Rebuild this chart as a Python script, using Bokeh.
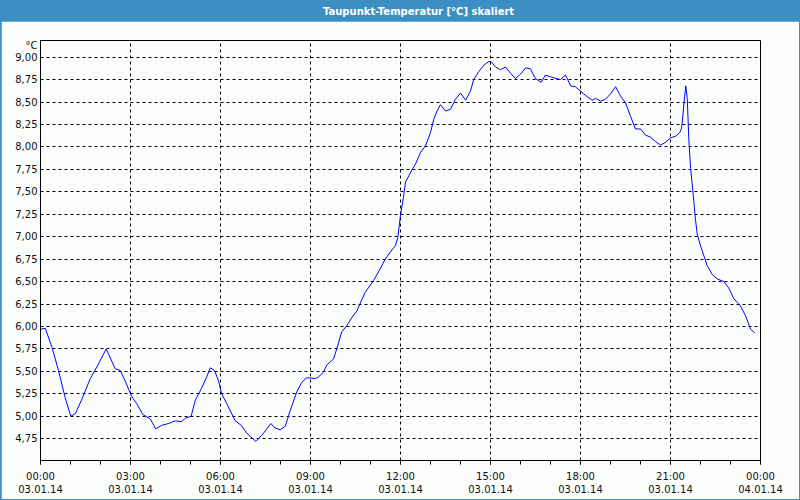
from bokeh.plotting import figure
from bokeh.models import Range1d, FixedTicker, Label, ColumnDataSource
from bokeh.layouts import column
from bokeh.embed import file_html
from bokeh.resources import INLINE

# ---- data (hours since 03.01.14 00:00, dew point in °C) ----
hours = [0.00, 0.16, 0.38, 0.60, 0.82, 1.01, 1.16, 1.38, 1.66, 1.88, 2.19, 2.49, 2.66, 2.84,
         3.04, 3.21, 3.41, 3.66, 3.84, 4.04, 4.27, 4.49, 4.69, 4.84, 5.02, 5.16, 5.38, 5.54,
         5.66, 5.80, 5.93, 6.04, 6.21, 6.49, 6.69, 6.88, 7.18, 7.43, 7.68, 7.82, 7.99, 8.16,
         8.32, 8.54, 8.71, 8.88, 9.16, 9.27, 9.43, 9.54, 9.77, 9.91, 10.04, 10.21, 10.38,
         10.54, 10.82, 11.10, 11.32, 11.49, 11.66, 11.83, 11.91, 12.00, 12.09, 12.17, 12.28,
         12.39, 12.50, 12.67, 12.83, 13.00, 13.11, 13.22, 13.33, 13.50, 13.67, 13.83, 14.00,
         14.17, 14.33, 14.44, 14.61, 14.78, 14.94, 15.02, 15.17, 15.33, 15.50, 15.67, 15.83,
         16.00, 16.17, 16.33, 16.50, 16.69, 16.83, 17.00, 17.22, 17.33, 17.50, 17.67, 17.83,
         18.00, 18.22, 18.39, 18.50, 18.67, 18.83, 19.00, 19.17, 19.33, 19.50, 19.67, 19.83,
         20.00, 20.17, 20.33, 20.50, 20.67, 20.83, 21.00, 21.17, 21.31, 21.37, 21.41, 21.47,
         21.51, 21.56, 21.61, 21.67, 21.76, 21.83, 21.89, 22.00, 22.11, 22.22, 22.39, 22.56,
         22.78, 22.94, 23.11, 23.33, 23.50, 23.67, 23.81]
dewpoint = [5.97, 5.98, 5.77, 5.51, 5.21, 5.00, 5.03, 5.19, 5.42, 5.55, 5.75, 5.53, 5.51, 5.38,
            5.22, 5.14, 5.02, 4.97, 4.86, 4.90, 4.92, 4.95, 4.94, 4.98, 5.00, 5.18, 5.32, 5.44,
            5.54, 5.51, 5.40, 5.25, 5.14, 4.95, 4.90, 4.81, 4.72, 4.81, 4.92, 4.87, 4.85, 4.89,
            5.06, 5.27, 5.38, 5.43, 5.42, 5.44, 5.49, 5.57, 5.64, 5.79, 5.94, 6.01, 6.10,
            6.17, 6.38, 6.51, 6.64, 6.75, 6.83, 6.90, 6.99, 7.24, 7.42, 7.61, 7.68,
            7.75, 7.81, 7.94, 8.01, 8.16, 8.31, 8.40, 8.47, 8.40, 8.42, 8.53, 8.60,
            8.52, 8.62, 8.75, 8.84, 8.91, 8.95, 8.95, 8.89, 8.86, 8.89, 8.82, 8.76,
            8.81, 8.88, 8.87, 8.76, 8.72, 8.80, 8.78, 8.76, 8.75, 8.80, 8.68, 8.67,
            8.62, 8.56, 8.52, 8.54, 8.51, 8.53, 8.59, 8.67, 8.57, 8.49, 8.34, 8.20,
            8.20, 8.13, 8.11, 8.06, 8.02, 8.05, 8.10, 8.12, 8.16, 8.21, 8.34, 8.56,
            8.68, 8.53, 8.09, 7.76, 7.46, 7.20, 7.03, 6.90, 6.79, 6.68, 6.58, 6.53,
            6.50, 6.43, 6.31, 6.23, 6.12, 5.97, 5.93]

x_ticks = [0, 3, 6, 9, 12, 15, 18, 21, 24]
x_tick_labels = ["00:00\n03.01.14", "03:00\n03.01.14", "06:00\n03.01.14", "09:00\n03.01.14",
                 "12:00\n03.01.14", "15:00\n03.01.14", "18:00\n03.01.14", "21:00\n03.01.14",
                 "00:00\n04.01.14"]
x_minor_ticks = list(range(0, 25))
y_ticks = [4.75, 5.0, 5.25, 5.5, 5.75, 6.0, 6.25, 6.5, 6.75, 7.0, 7.25, 7.5, 7.75, 8.0,
           8.25, 8.5, 8.75, 9.0]
y_tick_labels = ["4,75", "5,00", "5,25", "5,50", "5,75", "6,00", "6,25", "6,50", "6,75",
                 "7,00", "7,25", "7,50", "7,75", "8,00", "8,25", "8,50", "8,75", "9,00"]

title_text = "Taupunkt-Temperatur [°C] skaliert"
unit_text = "°C"
unit_pos = 9.13  # axis position where the unit label sits (above the top tick)

BLUE = "#3d8fc3"
BG = "#fbfdfb"
FONT = "DejaVu Sans"

# ---- title bar ----
tf = figure(width=800, height=21, x_range=Range1d(0, 800), y_range=Range1d(0, 21),
            toolbar_location=None, output_backend="svg", min_border=0,
            x_axis_location=None, y_axis_location=None,
            background_fill_color=BLUE, border_fill_color=BLUE, outline_line_color=None)
tf.grid.visible = False
tf.add_layout(Label(x=420, y=10.5, text=title_text, text_color="white",
                    text_font=FONT, text_font_style="bold", text_font_size="10px",
                    text_align="center", text_baseline="middle"))

# ---- main chart ----
p = figure(width=798, height=478, x_range=Range1d(0, 24), y_range=Range1d(4.508, 9.185),
           toolbar_location=None, output_backend="svg",
           min_border_left=39, min_border_right=39, min_border_top=19, min_border_bottom=39,
           background_fill_color=BG, border_fill_color=BG,
           outline_line_color="black", outline_line_width=1,
           margin=(0, 1, 1, 1))

src = ColumnDataSource(dict(t=hours, v=dewpoint))
p.line("t", "v", source=src, line_color="#0000ff", line_width=1)

p.xaxis.ticker = FixedTicker(ticks=x_ticks, minor_ticks=x_minor_ticks)
p.xaxis.major_label_overrides = {t: l for t, l in zip(x_ticks, x_tick_labels)}
p.yaxis.ticker = FixedTicker(ticks=y_ticks + [unit_pos])
overrides = {t: l for t, l in zip(y_ticks, y_tick_labels)}
overrides[unit_pos] = unit_text
p.yaxis.major_label_overrides = overrides

p.xgrid.ticker = FixedTicker(ticks=x_ticks)
p.ygrid.ticker = FixedTicker(ticks=y_ticks)
p.xgrid.grid_line_color = "black"
p.xgrid.grid_line_dash = "3 3"
p.xgrid.grid_line_width = 1
p.ygrid.grid_line_color = "black"
p.ygrid.grid_line_dash = "3 3"
p.ygrid.grid_line_width = 1

for ax in (p.xaxis, p.yaxis):
    ax.axis_line_color = "black"
    ax.major_label_text_font = FONT
    ax.major_label_text_font_size = "10px"
    ax.major_label_text_color = "#111111"
    ax.major_tick_in = 0
    ax.minor_tick_in = 0
p.xaxis.major_tick_out = 4
p.xaxis.minor_tick_out = 4
p.xaxis.major_tick_line_color = "black"
p.xaxis.minor_tick_line_color = "black"
p.xaxis.major_label_standoff = 6
p.yaxis.major_tick_out = 0
p.yaxis.minor_tick_out = 0
p.yaxis.major_label_standoff = 3

layout = column(tf, p, styles={"background-color": BLUE}, spacing=0)

open("out.html", "w").write(file_html(layout, INLINE))
